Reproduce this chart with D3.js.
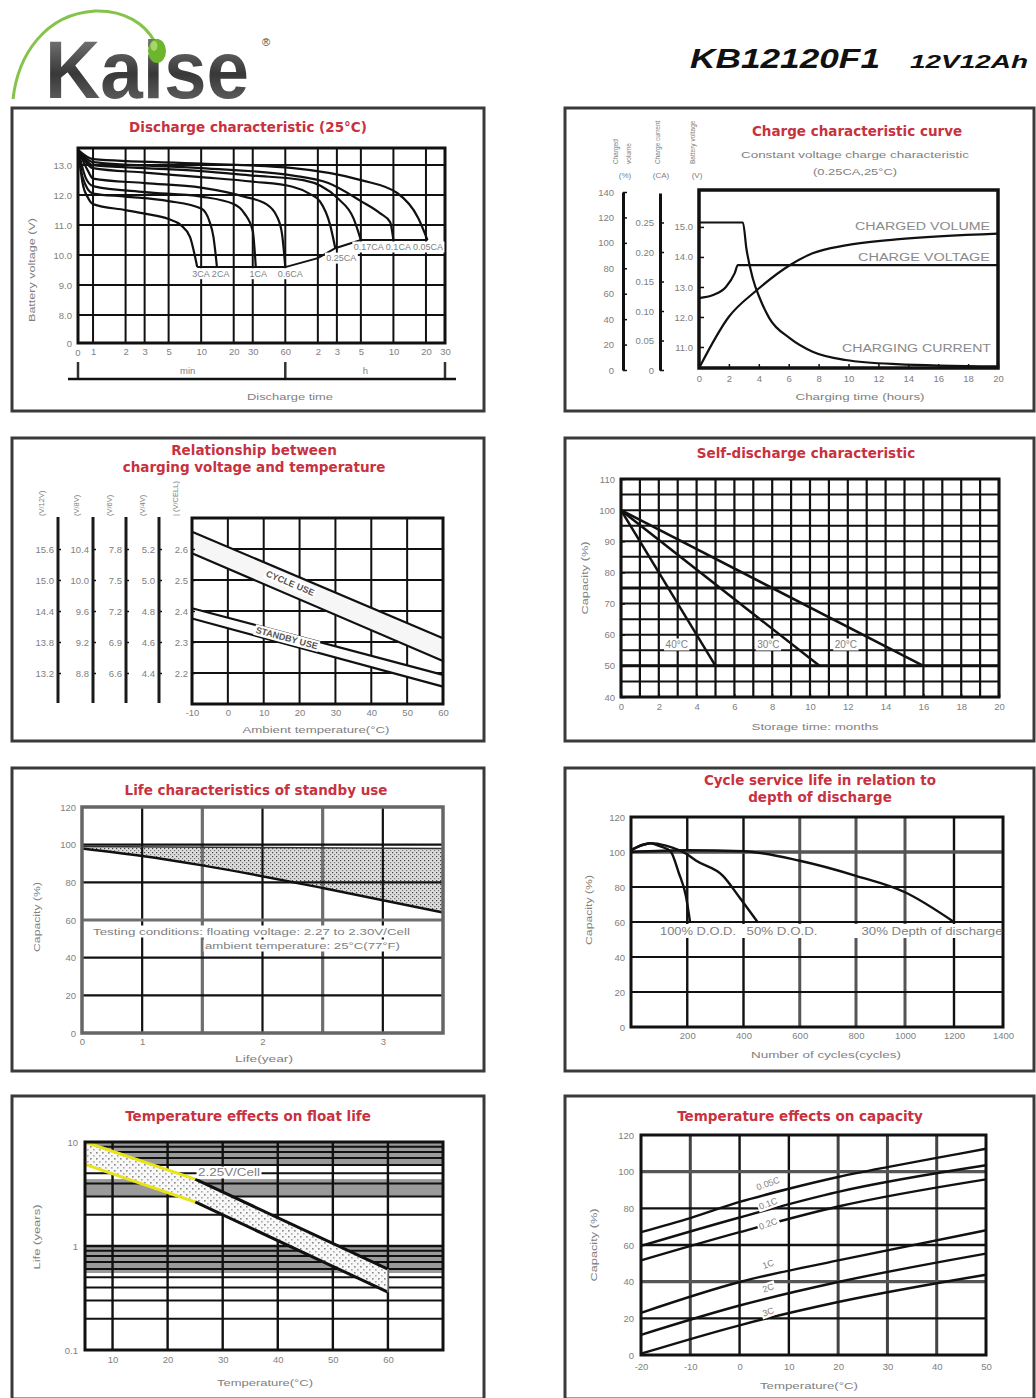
<!DOCTYPE html>
<html>
<head>
<meta charset="utf-8">
<script src="https://cdn.jsdelivr.net/npm/d3@7"></script>
<style>
body { margin: 0; background: #fff; }
svg { display: block; font-family: "Liberation Sans", Arial, sans-serif; }
.title { fill: #c8323f; font-family: "DejaVu Sans", sans-serif; font-weight: bold; font-size: 13.5px; text-anchor: middle; }
</style>
</head>
<body>
<div id="chart"></div>
<script>
// ---------------- data ----------------
// Discharge characteristic (time in minutes, voltage V)
var dcTimeTicks  = [1, 2, 3, 5, 10, 20, 30, 60, 120, 180, 300, 600, 1200, 1800];
var dcTimeLabels = ["1","2","3","5","10","20","30","60","2","3","5","10","20","30"];
var dcVoltTicks  = [8, 9, 10, 11, 12, 13];
var dcVoltLabels = ["8.0","9.0","10.0","11.0","12.0","13.0"];
var dc3CA   = [[0.73,13.5],[0.8,12.4],[0.9,11.9],[1,11.7],[2,11.5],[3,11.38],[5,11.2],[6.5,11.0],[7.9,10.6],[8.8,9.93],[9.2,9.6]];
var dc2CA   = [[0.73,13.5],[0.8,12.6],[1,12.05],[2,11.95],[5,11.8],[10,11.55],[12,11.1],[13,10.6],[14,9.6]];
var dc1CA   = [[0.73,13.5],[0.85,12.6],[1,12.3],[3,12.1],[10,11.95],[20,11.7],[25,11.4],[30,10.8],[32,9.6]];
var dc06CA  = [[0.73,13.5],[0.9,12.8],[1,12.55],[3,12.4],[10,12.25],[25,11.95],[40,11.7],[50,11.3],[56,10.7],[60,9.6]];
var dc025CA = [[0.73,13.5],[1,12.9],[3,12.75],[10,12.6],[30,12.45],[70,12.28],[100,12.05],[126,11.78],[156,11.0],[174,10.23]];
var dc017CA = [[0.73,13.5],[1,13.0],[3,12.9],[10,12.8],[30,12.65],[88,12.5],[182,11.9],[256,11.23],[300,10.5]];
var dc01CA  = [[0.73,13.5],[1,13.1],[10,12.9],[71,12.65],[150,12.4],[300,11.8],[450,11.4],[560,11.1],[600,10.5]];
var dc005CA = [[0.73,13.5],[1,13.2],[10,13.05],[71,12.9],[300,12.5],[650,12.07],[1020,11.23],[1240,10.5]];
var dcEndVoltage = [[9.2,9.6],[60,9.6],[120,9.9],[174,10.23],[300,10.5],[1240,10.5]];
var dcLabels = ["3CA 2CA", "1CA", "0.6CA", "0.25CA", "0.17CA 0.1CA 0.05CA"];

// Charge characteristic (hours)
var chTimeTicks   = [0, 2, 4, 6, 8, 10, 12, 14, 16, 18, 20];
var chPctTicks    = [0, 20, 40, 60, 80, 100, 120, 140];
var chCurTicks    = [0, 0.05, 0.10, 0.15, 0.20, 0.25];
var chCurLabels   = ["0", "0.05", "0.10", "0.15", "0.20", "0.25"];
var chVoltTicks   = [11, 12, 13, 14, 15];
var chVoltLabels  = ["11.0", "12.0", "13.0", "14.0", "15.0"];
var chargeCurrent = [[0,0.25],[2.94,0.25],[3.17,0.206],[3.6,0.155],[4.06,0.122],[4.7,0.088],[6.07,0.054],[7.6,0.031],[9.8,0.017],[13.2,0.010],[20,0.006]];
var chargeVoltage = [[0,12.63],[0.94,12.73],[1.8,13.0],[2.39,13.46],[2.6,13.73],[20,13.73]];
var chargedVolume = [[0,1.4],[2,41.9],[3.8,62.1],[6.07,82.4],[7.6,91.8],[9.8,98],[13.2,102.7],[20,107.3]];

// Charging voltage vs temperature (V per cell)
var rvTempTicks  = [-10, 0, 10, 20, 30, 40, 50, 60];
var rvCellTicks  = [2.6, 2.5, 2.4, 2.3, 2.2];
var rvCellsPer   = [6, 4, 3, 2, 1];
var rvColLabels  = [["15.6","15.0","14.4","13.8","13.2"], ["10.4","10.0","9.6","9.2","8.8"],
                    ["7.8","7.5","7.2","6.9","6.6"], ["5.2","5.0","4.8","4.6","4.4"], ["2.6","2.5","2.4","2.3","2.2"]];
var rvColHeads   = ["(V/12V)", "(V/8V)", "(V/6V)", "(V/4V)", "| (V/CELL)"];
var cycleUpper   = [[-10,2.656],[60,2.312]];
var cycleLower   = [[-10,2.586],[60,2.239]];
var standbyUpper = [[-10,2.409],[60,2.194]];
var standbyLower = [[-10,2.376],[60,2.156]];

// Self-discharge (months, %)
var sdMonths = d3.range(0, 21);
var sdTimeTicks = [0, 2, 4, 6, 8, 10, 12, 14, 16, 18, 20];
var sdCapTicks = [40, 50, 60, 70, 80, 90, 100, 110];
var sdGridCap = d3.range(40, 111, 5);
var sd40 = [[0,100],[5,50]];
var sd30 = [[0,100],[10.5,50]];
var sd20 = [[0,100],[16,50]];
var sdLabels = ["40°C", "30°C", "20°C"];

// Standby life (half-year grid)
var lifeGrid = [0, 1, 2, 3, 4, 5, 6];
var lifeTickPos = [0, 1, 3, 5];
var lifeTickLabels = ["0", "1", "2", "3"];
var capTicks = [0, 20, 40, 60, 80, 100, 120];
var lifeUpper = [[0,99],[6,98]];
var lifeLower = [[0,98],[1,94],[2,89],[4,77],[6,64]];

// Cycle life
var cycTicks = [200, 400, 600, 800, 1000, 1200, 1400];
var cycle100 = [[0,101],[40,104],[70,105],[100,103.5],[140,100.5],[170,88],[195,75],[210,60]];
var cycle50  = [[0,101],[40,104],[70,105],[124,103.6],[196,99],[232,95],[327,86.4],[386,74],[450,60]];
var cycle30  = [[0,100],[200,101],[400,100.4],[600,95],[800,86.4],[1000,77],[1200,60]];
var cycLabels = ["100% D.O.D.", "50% D.O.D.", "30% Depth of discharge"];

// Float life vs temperature
var flTempTicks = [10, 20, 30, 40, 50, 60];
var flLifeTicks = [0.1, 1, 10];
var flLifeLabels = ["0.1", "1", "10"];
var floatUpper = [[5,10],[25,4.4],[60,0.6]];
var floatLower = [[5,6.1],[25,2.65],[60,0.36]];

// Capacity vs temperature
var ctTempTicks = [-20, -10, 0, 10, 20, 30, 40, 50];
var cap005C = [[-20,67],[-10,74.7],[0,83.5],[10,90.7],[20,97.1],[30,102.5],[40,107.5],[50,112.5]];
var cap01C  = [[-20,59.5],[0,75],[20,89],[50,103.5]];
var cap02C  = [[-20,51.6],[0,67],[20,81],[50,95.8]];
var cap1C   = [[-20,23],[0,39.8],[20,51.6],[50,68]];
var cap2C   = [[-20,11],[0,27],[20,39.8],[50,55.3]];
var cap3C   = [[-20,0.7],[0,16.2],[20,28.9],[50,43.8]];
var ctLabels = ["0.05C", "0.1C", "0.2C", "1C", "2C", "3C"];

// ---------------- drawing ----------------
var INK = "#111", SOFT = "#808080", TICK = 9.5;
var svg = d3.select("#chart").append("svg").attr("width", 1036).attr("height", 1398);
var defs = svg.append("defs");

var p1 = defs.append("pattern").attr("id", "stipple").attr("width", 4).attr("height", 4)
  .attr("patternUnits", "userSpaceOnUse");
p1.append("rect").attr("width", 4).attr("height", 4).attr("fill", "#dcdcdc");
p1.append("rect").attr("width", 1.2).attr("height", 1.2).attr("fill", "#444");
p1.append("rect").attr("x", 2).attr("y", 2).attr("width", 1.2).attr("height", 1.2).attr("fill", "#777");

var p2 = defs.append("pattern").attr("id", "sparse").attr("width", 6).attr("height", 6)
  .attr("patternUnits", "userSpaceOnUse");
p2.append("rect").attr("width", 6).attr("height", 6).attr("fill", "#f8f8f8");
p2.append("rect").attr("width", 1.6).attr("height", 1.6).attr("fill", "#888");
p2.append("rect").attr("x", 3).attr("y", 3).attr("width", 1.6).attr("height", 1.6).attr("fill", "#aaa");

var lg = defs.append("linearGradient").attr("id", "logoGrad").attr("x1", 0).attr("x2", 0).attr("y1", 0).attr("y2", 1);
lg.append("stop").attr("offset", "0%").attr("stop-color", "#8c8c8c");
lg.append("stop").attr("offset", "55%").attr("stop-color", "#383838");
lg.append("stop").attr("offset", "100%").attr("stop-color", "#707070");

function frame(x, y, w, h) {
  svg.append("rect").attr("x", x).attr("y", y).attr("width", w).attr("height", h)
    .attr("fill", "none").attr("stroke", "#3a3a3a").attr("stroke-width", 3);
}
function title(lines, cx, y) {
  lines.forEach(function(t, i) {
    svg.append("text").attr("class", "title").attr("x", cx).attr("y", y + i * 17).text(t);
  });
}
function label(g, x, y, t, o) {
  o = o || {};
  var el = g.append("text").attr("x", x).attr("y", y).attr("fill", o.fill || SOFT)
    .attr("font-size", o.size || 9).attr("text-anchor", o.anchor || "middle").text(t);
  if (o.bold) el.attr("font-weight", "bold");
  if (o.len) el.attr("textLength", o.len).attr("lengthAdjust", "spacingAndGlyphs");
  if (o.rotate) el.attr("transform", "rotate(" + o.rotate + "," + x + "," + y + ")");
  if (o.box) {
    var b = el.node().getBBox();
    g.insert("rect", function() { return el.node(); })
      .attr("x", b.x - 1.5).attr("y", b.y - 0.5).attr("width", b.width + 3).attr("height", b.height + 1)
      .attr("fill", "#fff")
      .attr("transform", o.rotate ? "rotate(" + o.rotate + "," + x + "," + y + ")" : null);
  }
  return el;
}
function ends(scale) { var r = scale.range(); return [r[0], r[r.length - 1]]; }
function gridV(g, sx, sy, values, color, width) {
  var yy = ends(sy);
  g.selectAll(null).data(values).enter().append("line")
    .attr("x1", sx).attr("x2", sx).attr("y1", yy[0]).attr("y2", yy[1])
    .attr("stroke", color || INK).attr("stroke-width", width || 2);
}
function gridH(g, sx, sy, values, color, width) {
  var xx = ends(sx);
  g.selectAll(null).data(values).enter().append("line")
    .attr("y1", sy).attr("y2", sy).attr("x1", xx[0]).attr("x2", xx[1])
    .attr("stroke", color || INK).attr("stroke-width", width || 2);
}
function plotBox(g, sx, sy) {
  var xx = ends(sx), yy = ends(sy);
  g.append("rect").attr("x", Math.min(xx[0], xx[1])).attr("y", Math.min(yy[0], yy[1]))
    .attr("width", Math.abs(xx[1] - xx[0])).attr("height", Math.abs(yy[1] - yy[0]))
    .attr("fill", "none").attr("stroke", INK).attr("stroke-width", 3);
}
function styleAxis(ax, o) {
  ax.attr("font-family", null).attr("font-size", null);
  ax.selectAll("text").attr("fill", SOFT).attr("font-size", o.size || TICK);
  ax.selectAll(".tick line").attr("stroke", INK).attr("stroke-width", 1.5);
  if (o.line) ax.select(".domain").attr("stroke", INK).attr("stroke-width", o.line);
  else ax.select(".domain").remove();
  return ax;
}
function axisL(g, scale, values, labels, x, o) {
  o = o || {};
  var ax = g.append("g").attr("transform", "translate(" + x + ",0)")
    .call(d3.axisLeft(scale).tickValues(values).tickFormat(function(d, i) { return labels[i]; })
      .tickSize(o.tick || 0).tickSizeOuter(0).tickPadding(o.pad || 5));
  return styleAxis(ax, o);
}
function axisB(g, scale, values, labels, y, o) {
  o = o || {};
  var ax = g.append("g").attr("transform", "translate(0," + y + ")")
    .call(d3.axisBottom(scale).tickValues(values).tickFormat(function(d, i) { return labels[i]; })
      .tickSize(o.tick || 0).tickSizeOuter(0).tickPadding(o.pad || 5));
  return styleAxis(ax, o);
}
function curve(g, sx, sy, data, o) {
  o = o || {};
  var line = d3.line().x(function(d) { return sx(d[0]); }).y(function(d) { return sy(d[1]); })
    .curve(o.linear ? d3.curveLinear : d3.curveMonotoneX);
  return g.append("path").datum(data).attr("d", line).attr("fill", "none")
    .attr("stroke", o.color || INK).attr("stroke-width", o.width || 2.2);
}
function band(g, sx, sy, upper, lower, fill) {
  var line = d3.line().x(function(d) { return sx(d[0]); }).y(function(d) { return sy(d[1]); });
  return g.append("path").attr("d", line(upper.concat(lower.slice().reverse())) + "Z")
    .attr("fill", fill).attr("stroke", "none");
}
function xTitle(g, x, y, t, len) {
  label(g, x, y, t, { size: 9.5, len: len });
}
function yTitle(g, x, y, t, len) {
  label(g, x, y, t, { rotate: -90, size: 9.5, len: len });
}

// ---------- header ----------
var head = svg.append("g");
head.append("path").attr("d", "M13,99 C18,55 45,14 95,11 C125,10 145,24 155,42")
  .attr("fill", "none").attr("stroke", "#86c34a").attr("stroke-width", 3);
head.append("text").attr("x", 45).attr("y", 98).attr("font-size", 82).attr("font-weight", "bold")
  .attr("textLength", 204).attr("lengthAdjust", "spacingAndGlyphs").attr("fill", "url(#logoGrad)").text("Kaise");
head.append("ellipse").attr("cx", 157).attr("cy", 51).attr("rx", 9).attr("ry", 12).attr("fill", "#6cb52c");
head.append("ellipse").attr("cx", 154).attr("cy", 46).attr("rx", 3.5).attr("ry", 5).attr("fill", "#a6d66d");
head.append("text").attr("x", 262).attr("y", 46).attr("font-size", 11).attr("fill", "#444").text("®");
head.append("text").attr("x", 690).attr("y", 68).attr("font-size", 27).attr("font-weight", "bold")
  .attr("font-style", "italic").attr("textLength", 190).attr("lengthAdjust", "spacingAndGlyphs")
  .attr("fill", "#111").text("KB12120F1");
head.append("text").attr("x", 910).attr("y", 68).attr("font-size", 19).attr("font-weight", "bold")
  .attr("font-style", "italic").attr("textLength", 118).attr("lengthAdjust", "spacingAndGlyphs")
  .attr("fill", "#111").text("12V12Ah");

// ---------- frames ----------
[108, 438, 768, 1096].forEach(function(top) {
  frame(12, top, 472, 303);
  frame(565, top, 469, 303);
});

// ---------- 1. discharge ----------
var g1 = svg.append("g");
var x1 = d3.scaleLog().domain([0.726, 1800]).range([78, 445]);
var y1 = d3.scaleLinear().domain([7.07, 13.57]).range([343, 148]);
gridV(g1, x1, y1, dcTimeTicks);
gridH(g1, x1, y1, dcVoltTicks);
plotBox(g1, x1, y1);
[dc3CA, dc2CA, dc1CA, dc06CA, dc025CA, dc017CA, dc01CA, dc005CA].forEach(function(d) { curve(g1, x1, y1, d); });
curve(g1, x1, y1, dcEndVoltage, { linear: true, width: 2 });
var dcLabelAt = [[12.3, 9.28], [33.7, 9.28], [66.7, 9.28], [198, 9.8], [667, 10.17]];
dcLabels.forEach(function(t, i) {
  label(g1, x1(dcLabelAt[i][0]), y1(dcLabelAt[i][1]), t, { box: true, size: 9 });
});
axisL(g1, y1, dcVoltTicks, dcVoltLabels, 78, { pad: 6 });
label(g1, 72, 347, "0", { anchor: "end", size: TICK });
axisB(g1, x1, dcTimeTicks, dcTimeLabels, 343, { pad: 5 });
label(g1, 78, 356, "0", { size: TICK });
[0.726, 60, 1800].forEach(function(t) {
  g1.append("line").attr("x1", x1(t)).attr("x2", x1(t)).attr("y1", 362).attr("y2", 380)
    .attr("stroke", "#333").attr("stroke-width", 2.5);
});
g1.append("line").attr("x1", 68).attr("x2", 456).attr("y1", 379).attr("y2", 379)
  .attr("stroke", INK).attr("stroke-width", 2.5);
label(g1, x1(7.5), 374, "min", { size: 9.5 });
label(g1, x1(330), 374, "h", { size: 9.5 });
xTitle(g1, 290, 400, "Discharge time", 86);
yTitle(g1, 35, 270, "Battery voltage (V)", 104);
title(["Discharge characteristic (25°C)"], 248, 132);

// ---------- 2. charge ----------
var g2 = svg.append("g");
var x2 = d3.scaleLinear().domain([0, 20]).range([699, 998]);
var yPct = d3.scaleLinear().domain([0, 140]).range([370, 192]);
var yCur = d3.scaleLinear().domain([0, 0.3]).range([370, 193]);
var yV = d3.scaleLinear().domain([10.3, 16.23]).range([368, 190]);
g2.append("rect").attr("x", 699).attr("y", 190).attr("width", 299).attr("height", 178)
  .attr("fill", "none").attr("stroke", INK).attr("stroke-width", 3.5);
axisL(g2, yPct, chPctTicks, chPctTicks.map(String), 623, { tick: -4, pad: 9, line: 3 });
axisL(g2, yCur, chCurTicks, chCurLabels, 660, { tick: -4, pad: 6, line: 3 });
axisL(g2, yV, chVoltTicks, chVoltLabels, 699, { tick: -5, pad: 6 });
axisB(g2, x2, chTimeTicks, chTimeTicks.map(String), 368, { tick: -4, pad: 7 });
curve(g2, x2, yCur, chargeCurrent);
curve(g2, x2, yV, chargeVoltage);
curve(g2, x2, yPct, chargedVolume);
label(g2, 855, 230, "CHARGED VOLUME", { anchor: "start", size: 10, len: 135, fill: "#8a8a8a" });
label(g2, 858, 261, "CHARGE VOLTAGE", { anchor: "start", size: 10, len: 132, fill: "#8a8a8a", box: true });
label(g2, 842, 352, "CHARGING CURRENT", { anchor: "start", size: 10, len: 149, fill: "#8a8a8a" });
var chHeads = [["Charged", "volume"], ["Charge current"], ["Battery voltage"]];
var chHeadX = [[618, 631], [660], [695]];
chHeads.forEach(function(lines, i) {
  lines.forEach(function(t, j) {
    label(g2, chHeadX[i][j], 164, t, { rotate: -90, anchor: "start", size: 6.5 });
  });
});
label(g2, 625, 178, "(%)", { size: 8 });
label(g2, 661, 178, "(CA)", { size: 8 });
label(g2, 697, 178, "(V)", { size: 8 });
label(g2, 855, 158, "Constant voltage charge characteristic", { size: 9, len: 228 });
label(g2, 855, 175, "(0.25CA,25°C)", { size: 9, len: 84 });
xTitle(g2, 860, 400, "Charging time (hours)", 129);
title(["Charge characteristic curve"], 857, 136);

// ---------- 3. charging voltage vs temperature ----------
var g3 = svg.append("g");
var x3 = d3.scaleLinear().domain([-10, 60]).range([192, 443]);
var y3 = d3.scaleLinear().domain([2.1, 2.7]).range([704, 518]);
gridV(g3, x3, y3, rvTempTicks);
gridH(g3, x3, y3, d3.range(2.1, 2.71, 0.1));
band(g3, x3, y3, cycleUpper, cycleLower, "#f6f6f6");
band(g3, x3, y3, standbyUpper, standbyLower, "#fbfbfb");
[cycleUpper, cycleLower, standbyUpper, standbyLower].forEach(function(d) { curve(g3, x3, y3, d, { linear: true }); });
plotBox(g3, x3, y3);
label(g3, 289, 586, "CYCLE USE", { rotate: 23, bold: true, size: 9, fill: "#555", box: true });
label(g3, 286, 641, "STANDBY USE", { rotate: 15, bold: true, size: 9, fill: "#555", box: true });
var rvLineX = [58, 93, 126, 159, 192];
rvCellsPer.forEach(function(k, i) {
  var s = d3.scaleLinear().domain([2.1 * k, 2.7 * k]).range([704, 518]);
  axisL(g3, s, rvCellTicks.map(function(v) { return v * k; }), rvColLabels[i], rvLineX[i],
    { tick: -3, pad: 4 });
  if (i < 4) {
    g3.append("line").attr("x1", rvLineX[i]).attr("x2", rvLineX[i]).attr("y1", 517).attr("y2", 703)
      .attr("stroke", "#1a1a1a").attr("stroke-width", 3);
  }
  label(g3, rvLineX[i] - 14, 516, rvColHeads[i], { rotate: -90, anchor: "start", size: 7.5 });
});
axisB(g3, x3, rvTempTicks, rvTempTicks.map(String), 704, { pad: 5 });
xTitle(g3, 316, 733, "Ambient temperature(°C)", 147);
title(["Relationship between", "charging voltage and temperature"], 254, 455);

// ---------- 4. self-discharge ----------
var g4 = svg.append("g");
var x4 = d3.scaleLinear().domain([0, 20]).range([621, 999]);
var y4 = d3.scaleLinear().domain([40, 110]).range([697, 479]);
gridV(g4, x4, y4, sdMonths, INK, 2.2);
gridH(g4, x4, y4, sdGridCap, INK, 2);
gridH(g4, x4, y4, [50, 75], INK, 3);
plotBox(g4, x4, y4);
[sd40, sd30, sd20].forEach(function(d) { curve(g4, x4, y4, d, { linear: true, width: 2.5 }); });
var sdLabelX = [2.95, 7.8, 11.9];
sdLabels.forEach(function(t, i) { label(g4, x4(sdLabelX[i]), 648, t, { box: true, size: 10 }); });
axisL(g4, y4, sdCapTicks, sdCapTicks.map(String), 621, { tick: -4, pad: 6 });
axisB(g4, x4, sdTimeTicks, sdTimeTicks.map(String), 697, { tick: -3, pad: 6 });
xTitle(g4, 815, 730, "Storage time: months", 127);
yTitle(g4, 588, 578, "Capacity (%)", 73);
title(["Self-discharge characteristic"], 806, 458);

// ---------- 5. standby life ----------
var g5 = svg.append("g");
var x5 = d3.scaleLinear().domain([0, 6]).range([82, 443]);
var y5 = d3.scaleLinear().domain([0, 120]).range([1033, 807]);
band(g5, x5, y5, lifeUpper, lifeLower, "url(#stipple)");
gridV(g5, x5, y5, [1, 3, 5], INK, 2.2);
gridV(g5, x5, y5, [2, 4], "#6e6e6e", 3.2);
gridH(g5, x5, y5, [20, 40, 80, 100], INK, 2.2);
gridH(g5, x5, y5, [60], "#6e6e6e", 3.2);
curve(g5, x5, y5, lifeLower, { width: 2.4 });
curve(g5, x5, y5, lifeUpper, { width: 1.5, color: "#333" });
g5.append("rect").attr("x", 82).attr("y", 807).attr("width", 361).attr("height", 226)
  .attr("fill", "none").attr("stroke", "#666").attr("stroke-width", 3.5);
label(g5, 93, 935, "Testing conditions: floating voltage: 2.27 to 2.30V/Cell",
  { anchor: "start", size: 9.5, len: 317, box: true });
label(g5, 205, 949, "ambient temperature: 25°C(77°F)", { anchor: "start", size: 9.5, len: 195, box: true });
axisL(g5, y5, capTicks, capTicks.map(String), 82, { pad: 6 });
axisB(g5, x5, lifeTickPos, lifeTickLabels, 1033, { pad: 5 });
xTitle(g5, 264, 1062, "Life(year)", 58);
yTitle(g5, 40, 917, "Capacity (%)", 70);
title(["Life characteristics of standby use"], 256, 795);

// ---------- 6. cycle life ----------
var g6 = svg.append("g");
var x6 = d3.scaleLinear().domain([0, 800, 1400]).range([631, 856, 1003]);
var y6 = d3.scaleLinear().domain([0, 120]).range([1027, 817]);
gridV(g6, x6, y6, [200, 400, 1200], INK, 2.4);
gridV(g6, x6, y6, [600, 800, 1000], "#555", 3);
gridH(g6, x6, y6, [20, 40, 60, 80], INK, 2.2);
gridH(g6, x6, y6, [100], "#555", 3.5);
g6.append("rect").attr("x", 633).attr("y", 924).attr("width", 368).attr("height", 14).attr("fill", "#fff");
plotBox(g6, x6, y6);
[cycle100, cycle50, cycle30].forEach(function(d) { curve(g6, x6, y6, d, { width: 2.4 }); });
var cycLabelX = [698, 782, 932];
var cycLabelLen = [76, 71, 141];
cycLabels.forEach(function(t, i) { label(g6, cycLabelX[i], 935, t, { size: 10, len: cycLabelLen[i] }); });
axisL(g6, y6, capTicks, capTicks.map(String), 631, { pad: 6 });
axisB(g6, x6, cycTicks, cycTicks.map(String), 1027, { pad: 5 });
xTitle(g6, 826, 1058, "Number of cycles(cycles)", 150);
yTitle(g6, 592, 910, "Capacity (%)", 70);
title(["Cycle service life in relation to", "depth of discharge"], 820, 785);

// ---------- 7. float life ----------
var g7 = svg.append("g");
var x7 = d3.scaleLinear().domain([5, 70]).range([85, 443]);
var y7 = d3.scaleLog().domain([0.1, 10]).range([1350, 1142]);
var flShade = [[6, 10], [3, 4.4], [0.55, 1]];
flShade.forEach(function(r) {
  g7.append("rect").attr("x", 85).attr("width", 358).attr("y", y7(r[1])).attr("height", y7(r[0]) - y7(r[1]))
    .attr("fill", "#9a9a9a");
});
var flMinor = [];
[0.1, 1].forEach(function(dec) { for (var m = 2; m <= 9; m++) flMinor.push(dec * m); });
gridH(g7, x7, y7, flMinor, INK, 2);
gridH(g7, x7, y7, [1], INK, 2.5);
gridV(g7, x7, y7, flTempTicks, INK, 2.4);
band(g7, x7, y7, floatUpper, floatLower, "url(#sparse)");
var upA = floatUpper.slice(0, 2), upB = floatUpper.slice(1);
var loA = floatLower.slice(0, 2), loB = floatLower.slice(1);
[upB, loB].forEach(function(d) { curve(g7, x7, y7, d, { linear: true, width: 3 }); });
[upA, loA].forEach(function(d) { curve(g7, x7, y7, d, { linear: true, width: 3, color: "#e8e41a" }); });
g7.append("line").attr("x1", x7(60)).attr("x2", x7(60)).attr("y1", y7(0.6)).attr("y2", y7(0.36))
  .attr("stroke", "#888").attr("stroke-width", 1.5);
plotBox(g7, x7, y7);
label(g7, 229, 1176, "2.25V/Cell", { size: 10, len: 62, box: true });
axisL(g7, y7, flLifeTicks, flLifeLabels, 85, { pad: 7 });
axisB(g7, x7, flTempTicks, flTempTicks.map(String), 1350, { pad: 6 });
xTitle(g7, 265, 1386, "Temperature(°C)", 96);
yTitle(g7, 40, 1237, "Life (years)", 65);
title(["Temperature effects on float life"], 248, 1121);

// ---------- 8. capacity vs temperature ----------
var g8 = svg.append("g");
var x8 = d3.scaleLinear().domain([-20, 50]).range([641, 986]);
var y8 = d3.scaleLinear().domain([0, 120]).range([1355, 1135]);
gridV(g8, x8, y8, [0, 10], INK, 2.4);
gridV(g8, x8, y8, [-10, 20, 30, 40], "#444", 3);
gridH(g8, x8, y8, [20, 60, 80], INK, 2.4);
gridH(g8, x8, y8, [40, 100], "#555", 3.2);
plotBox(g8, x8, y8);
var capLines = [cap005C, cap01C, cap02C, cap1C, cap2C, cap3C];
capLines.forEach(function(d) { curve(g8, x8, y8, d, { width: 2.4 }); });
var ctLabelY = [92, 81, 70, 48, 35, 22];
ctLabels.forEach(function(t, i) {
  label(g8, x8(6), y8(ctLabelY[i]), t, { rotate: -20, size: 9, box: true });
});
axisL(g8, y8, capTicks, capTicks.map(String), 641, { pad: 7 });
axisB(g8, x8, ctTempTicks, ctTempTicks.map(String), 1355, { pad: 8 });
xTitle(g8, 809, 1389, "Temperature(°C)", 98);
yTitle(g8, 597, 1245, "Capacity (%)", 73);
title(["Temperature effects on capacity"], 800, 1121);
</script>
</body>
</html>
